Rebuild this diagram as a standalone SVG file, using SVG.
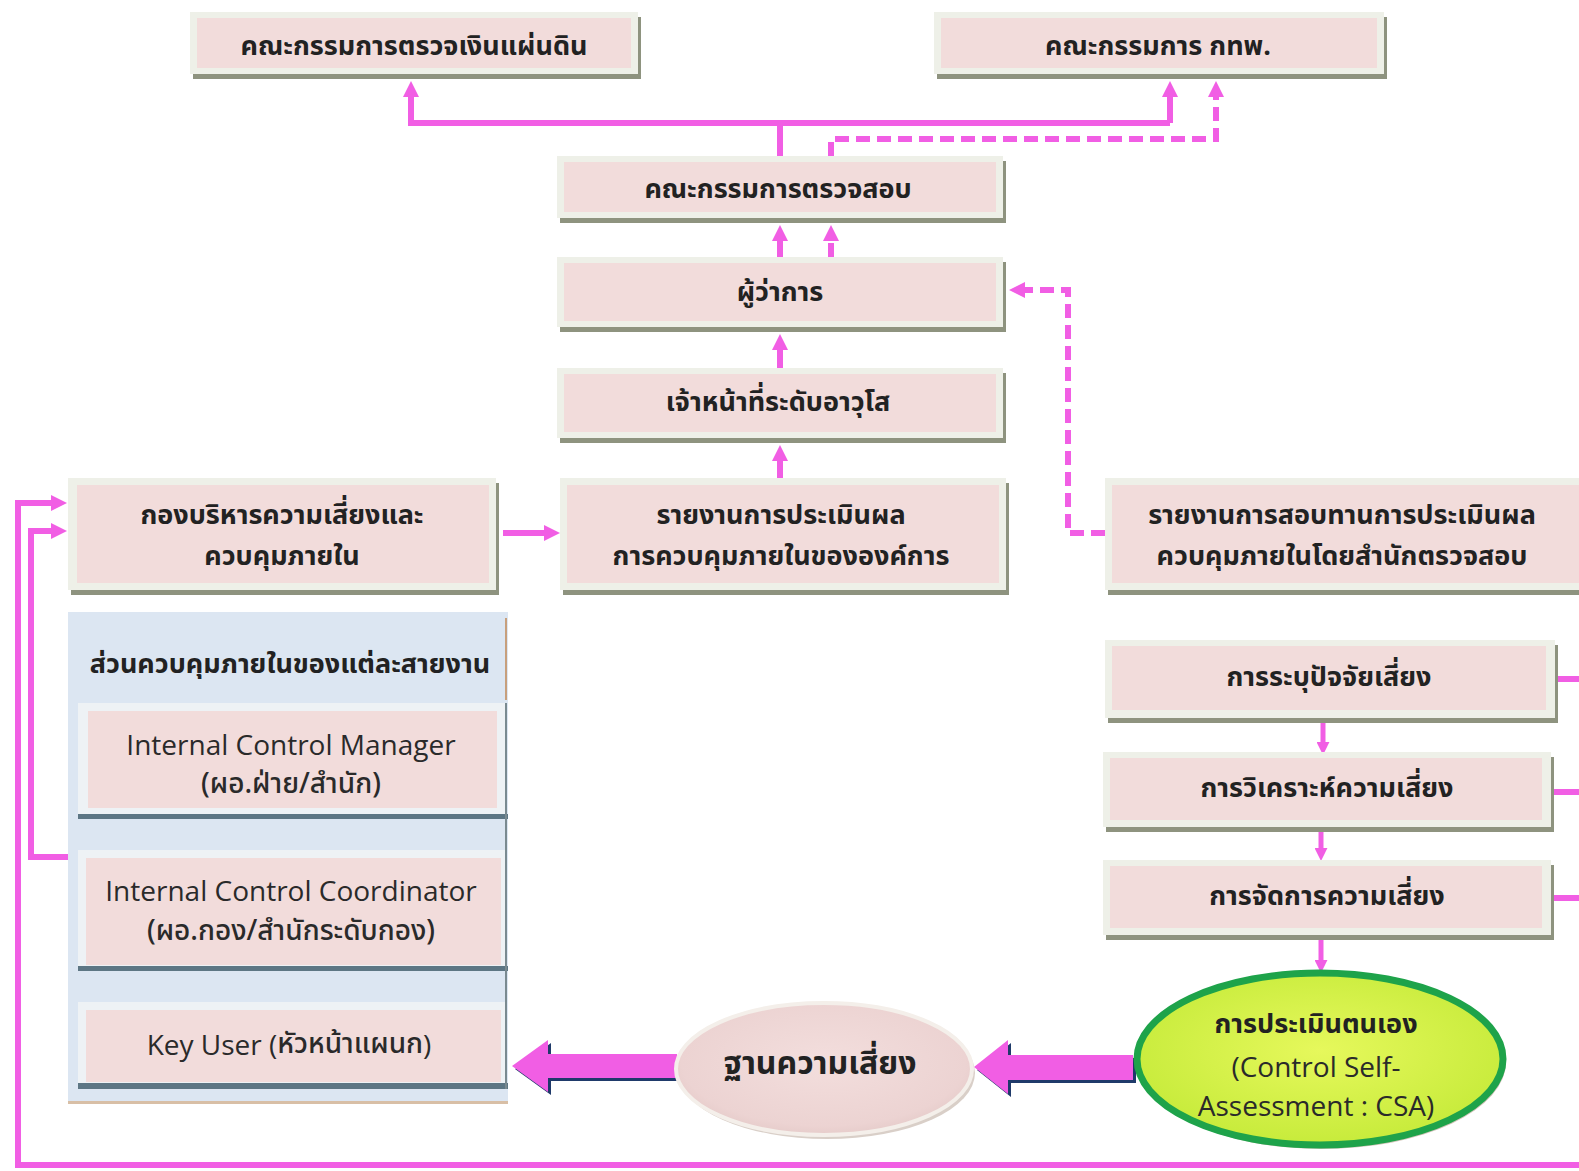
<svg xmlns="http://www.w3.org/2000/svg" width="1579" height="1171" viewBox="0 0 1579 1171">
<style>
.sh{fill:#8e937f}
.fr{fill:#eef0e8}
.in{fill:#f2dcdb}
.th{font-family:"Noto Sans Thai","Noto Sans","DejaVu Sans",sans-serif;font-weight:bold;font-size:27px;fill:#222;text-anchor:middle;dominant-baseline:central}
.en{font-family:"Open Sans","Noto Sans Thai","DejaVu Sans",sans-serif;font-size:28px;fill:#2a2a2a;text-anchor:middle;dominant-baseline:central}
.tn{font-family:"Noto Sans Thai","Open Sans","DejaVu Sans",sans-serif;font-weight:500;font-size:28px;fill:#2a2a2a;text-anchor:middle;dominant-baseline:central}
.ln{fill:none;stroke:#f15ee4;stroke-width:6}
.lt{fill:none;stroke:#f15ee4;stroke-width:5}
.ds{stroke-dasharray:14 7}
</style>
<defs>
<marker id="ah" viewBox="0 0 16 16" refX="1" refY="8" markerWidth="16" markerHeight="16" markerUnits="userSpaceOnUse" orient="auto"><path d="M0,0 L16,8 L0,16 z" fill="#f15ee4"/></marker>
<marker id="as" viewBox="0 0 12 12" refX="1" refY="6" markerWidth="13" markerHeight="13" markerUnits="userSpaceOnUse" orient="auto"><path d="M0,0 L12,6 L0,12 z" fill="#f15ee4"/></marker>
<radialGradient id="gb" cx="0.5" cy="0.45" r="0.6"><stop offset="0" stop-color="#f3dedd"/><stop offset="0.8" stop-color="#ecd3d2"/><stop offset="1" stop-color="#e2c7c5"/></radialGradient>
<radialGradient id="gc" cx="0.5" cy="0.45" r="0.6"><stop offset="0" stop-color="#e6f85c"/><stop offset="1" stop-color="#c4ea38"/></radialGradient>
</defs>

<g id="connectors">
<path class="ln" d="M780,156 V123 M408,123 H1170"/>
<path class="ln" d="M411,123 V96" marker-end="url(#ah)"/>
<path class="ln" d="M1170,123 V96" marker-end="url(#ah)"/>
<path class="ln ds" d="M831,156 V139 H1216 V96" marker-end="url(#ah)"/>
<path class="ln" d="M780,257 V240" marker-end="url(#ah)"/>
<path class="ln ds" d="M831,257 V240" marker-end="url(#ah)"/>
<path class="ln" d="M780,368 V349" marker-end="url(#ah)"/>
<path class="ln" d="M780,478 V460" marker-end="url(#ah)"/>
<path class="ln" d="M503,533 H545" marker-end="url(#ah)"/>
<path class="ln ds" d="M1105,533 H1068 V290 H1024" marker-end="url(#ah)"/>
<path class="ln" d="M1579,1165 H18 V503 H52" marker-end="url(#ah)"/>
<path class="ln" d="M70,857 H31 V531 H52" marker-end="url(#ah)"/>
<path class="ln" d="M1555,679 H1579 M1553,792 H1579 M1553,898 H1579"/>
<path class="lt" d="M1323,723 V743" marker-end="url(#as)"/>
<path class="lt" d="M1321,832 V849" marker-end="url(#as)"/>
<path class="lt" d="M1321,940 V961" marker-end="url(#as)"/>
<path class="lt" d="M291,850 V831" marker-end="url(#as)"/>
<path class="lt" d="M291,1002 V984" marker-end="url(#as)"/>
<polygon points="1136,1058 1011,1058 1011,1043 977,1070 1011,1097 1011,1083 1136,1083" fill="#1f3a6a"/>
<polygon points="1133,1055 1008,1055 1008,1040 974,1067 1008,1094 1008,1080 1133,1080" fill="#f15ee4"/>
<polygon points="680,1057 551,1057 551,1043 515,1069 551,1095 551,1081 680,1081" fill="#1f3a6a"/>
<polygon points="677,1054 548,1054 548,1040 512,1066 548,1092 548,1078 677,1078" fill="#f15ee4"/>
</g>

<g id="node-oag">
<rect class="sh" x="193" y="17" width="448" height="62"/>
<rect class="fr" x="190" y="12" width="448" height="62"/>
<rect class="in" x="197" y="18" width="434" height="50"/>
<text class="th" x="414" y="46">คณะกรรมการตรวจเงินแผ่นดิน</text>
</g>
<g id="node-board">
<rect class="sh" x="937" y="17" width="450" height="62"/>
<rect class="fr" x="934" y="12" width="450" height="62"/>
<rect class="in" x="941" y="18" width="436" height="50"/>
<text class="th" x="1158" y="46">คณะกรรมการ กทพ.</text>
</g>
<g id="node-audit-committee">
<rect class="sh" x="560" y="161" width="446" height="62"/>
<rect class="fr" x="557" y="156" width="446" height="62"/>
<rect class="in" x="564" y="162" width="432" height="50"/>
<text class="th" x="778" y="189">คณะกรรมการตรวจสอบ</text>
</g>
<g id="node-governor">
<rect class="sh" x="560" y="262" width="446" height="70"/>
<rect class="fr" x="557" y="257" width="446" height="70"/>
<rect class="in" x="564" y="263" width="432" height="58"/>
<text class="th" x="780" y="292">ผู้ว่าการ</text>
</g>
<g id="node-senior">
<rect class="sh" x="560" y="373" width="446" height="70"/>
<rect class="fr" x="557" y="368" width="446" height="70"/>
<rect class="in" x="564" y="374" width="432" height="58"/>
<text class="th" x="778" y="402">เจ้าหน้าที่ระดับอาวุโส</text>
</g>
<g id="node-report">
<rect class="sh" x="563" y="483" width="446" height="112"/>
<rect class="fr" x="560" y="478" width="446" height="112"/>
<rect class="in" x="567" y="485" width="432" height="98"/>
<text class="th" x="781" y="515">รายงานการประเมินผล</text>
<text class="th" x="781" y="556">การควบคุมภายในขององค์การ</text>
</g>
<g id="node-risk-dept">
<rect class="sh" x="71" y="483" width="428" height="112"/>
<rect class="fr" x="68" y="478" width="428" height="112"/>
<rect class="in" x="77" y="485" width="412" height="98"/>
<text class="th" x="282" y="515">กองบริหารความเสี่ยงและ</text>
<text class="th" x="282" y="556">ควบคุมภายใน</text>
</g>
<g id="node-review">
<rect class="sh" x="1108" y="483" width="474" height="112"/>
<rect class="fr" x="1105" y="478" width="474" height="112"/>
<rect class="in" x="1112" y="485" width="467" height="98"/>
<text class="th" x="1342" y="515">รายงานการสอบทานการประเมินผล</text>
<text class="th" x="1342" y="556">ควบคุมภายในโดยสำนักตรวจสอบ</text>
</g>

<g id="node-line-control">
<rect x="68" y="1099" width="440" height="5" fill="#d8bfa6"/>
<rect x="68" y="612" width="440" height="489" fill="#dce6f2"/>
<line x1="506" y1="618" x2="506" y2="700" stroke="#c79f7c" stroke-width="2"/>
<text class="th" x="290" y="664">ส่วนควบคุมภายในของแต่ละสายงาน</text>
<g id="node-icm">
<rect x="78" y="703" width="428" height="112" fill="#eef2f5"/>
<rect class="in" x="88" y="711" width="409" height="97"/>
<rect x="78" y="814" width="430" height="5" fill="#5d7684"/>
<text class="en" x="291" y="744">Internal Control Manager</text>
<text class="tn" x="291" y="784">(ผอ.ฝ่าย/สำนัก)</text>
</g>
<g id="node-icc">
<rect x="78" y="850" width="428" height="117" fill="#eef2f5"/>
<rect class="in" x="86" y="858" width="415" height="107"/>
<rect x="78" y="966" width="430" height="5" fill="#5d7684"/>
<text class="en" x="291" y="890">Internal Control Coordinator</text>
<text class="tn" x="291" y="931">(ผอ.กอง/สำนักระดับกอง)</text>
</g>
<g id="node-keyuser">
<rect x="78" y="1002" width="428" height="82" fill="#eef2f5"/>
<rect class="in" x="86" y="1010" width="415" height="72"/>
<rect x="78" y="1083" width="430" height="6" fill="#5d7684"/>
<text class="en" x="289" y="1044">Key User (<tspan style="font-family:'Noto Sans Thai',sans-serif;font-weight:500">หัวหน้าแผนก</tspan>)</text>
</g>
<line x1="506" y1="703" x2="506" y2="1089" stroke="#7a8a90" stroke-width="2"/>
</g>

<g id="node-identify">
<rect class="sh" x="1108" y="645" width="450" height="78"/>
<rect class="fr" x="1105" y="640" width="450" height="78"/>
<rect class="in" x="1112" y="646" width="434" height="64"/>
<text class="th" x="1329" y="677">การระบุปัจจัยเสี่ยง</text>
</g>
<g id="node-analyze">
<rect class="sh" x="1106" y="757" width="448" height="75"/>
<rect class="fr" x="1103" y="752" width="448" height="75"/>
<rect class="in" x="1110" y="758" width="432" height="62"/>
<text class="th" x="1327" y="788">การวิเคราะห์ความเสี่ยง</text>
</g>
<g id="node-manage">
<rect class="sh" x="1106" y="865" width="448" height="75"/>
<rect class="fr" x="1103" y="860" width="448" height="75"/>
<rect class="in" x="1110" y="866" width="432" height="62"/>
<text class="th" x="1327" y="896">การจัดการความเสี่ยง</text>
</g>

<g id="node-riskbase">
<ellipse cx="827" cy="1073" rx="148" ry="66" fill="#d9cfc8"/>
<ellipse cx="824" cy="1069" rx="148" ry="66" fill="url(#gb)" stroke="#f4efea" stroke-width="4"/>
<text class="th" x="820" y="1064" style="font-size:32px">ฐานความเสี่ยง</text>
</g>
<g id="node-csa">
<ellipse cx="1322" cy="1062" rx="184" ry="87" fill="#d2c4b8"/>
<ellipse cx="1320" cy="1059" rx="183" ry="86" fill="url(#gc)" stroke="#1ea34a" stroke-width="7"/>
<text class="th" x="1316" y="1024">การประเมินตนเอง</text>
<text class="en" x="1316" y="1066">(Control Self-</text>
<text class="en" x="1316" y="1105">Assessment : CSA)</text>
</g>
</svg>
